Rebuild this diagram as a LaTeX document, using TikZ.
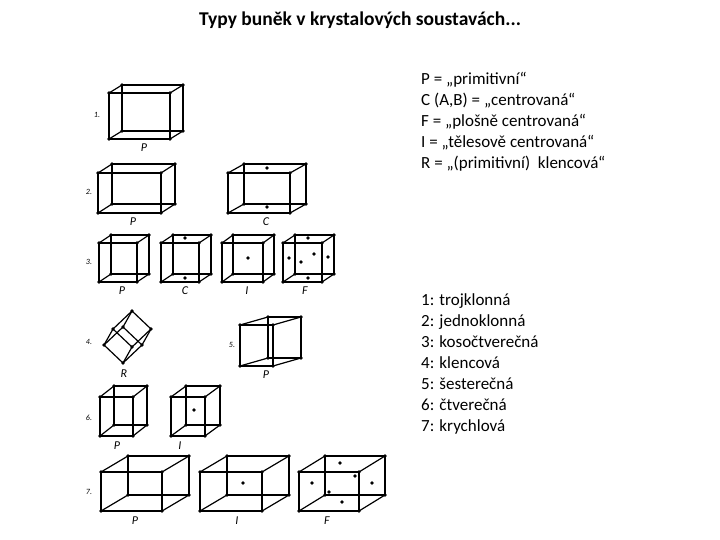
\documentclass[tikz,border=0pt]{standalone}
\usepackage{fontspec}
\setmainfont{Carlito}
\usepackage{tikz}

% one unit cell: front top-left, front bottom-right, offset of back face
\newcommand{\cellbox}[6]{%
  \draw[celledge] (#1,#2) rectangle (#3,#4);
  \draw[celledge] (#1+#5,#2+#6) rectangle (#3+#5,#4+#6);
  \foreach \cx/\cy in {#1/#2,#3/#2,#1/#4,#3/#4}{
    \draw[celledge] (\cx,\cy) -- (\cx+#5,\cy+#6);
    \fill (\cx,\cy) circle (1.9);
    \fill (\cx+#5,\cy+#6) circle (1.9);
  }%
}
\newcommand{\atom}[2]{\fill (#1,#2) circle (1.9);}

\begin{document}
\begin{tikzpicture}
  [
    x=1pt, y=-1pt,
    font=\itshape\large
  ]
  \tikzset{
    celledge/.style = {line width=1.2pt, line join=round},
    rowlabel/.style = {font=\itshape\footnotesize},
    infotext/.style = {font=\upshape\fontsize{17}{21}\selectfont, align=left, anchor=north west, inner sep=0pt}
  }
  \useasboundingbox (0,0) rectangle (720,540);
  \node[font=\upshape\bfseries\fontsize{19.5}{22}\selectfont] (title) at (360,20) {Typy buněk v krystalových soustavách...};

  % 1
  \node[rowlabel] (n1) at (97,115) {1.};
  \cellbox{109}{93}{170}{139}{13}{-8}
  \node (p1) at (144,148) {P};
  % 2
  \node[rowlabel] (n2) at (89,192) {2.};
  \cellbox{98}{173}{161}{213}{14}{-9}
  \node (p2) at (133,222) {P};
  \cellbox{228}{173}{290}{213}{16}{-9}
  \atom{267}{168} \atom{267}{207}
  \node (c2) at (266,222) {C};
  % 3
  \node[rowlabel] (n3) at (89,262) {3.};
  \cellbox{99}{243}{137}{282}{12}{-8}
  \node (p3) at (122,291) {P};
  \cellbox{161}{243}{199}{282}{12}{-8}
  \atom{185}{238} \atom{185}{278}
  \node (c3) at (185,291) {C};
  \cellbox{222}{243}{263}{282}{11}{-8}
  \atom{248}{258}
  \node (i3) at (247,291) {I};
  \cellbox{283}{243}{322}{282}{12}{-8}
  \atom{308}{238} \atom{308}{278} \atom{289}{258} \atom{328}{257}
  \atom{301}{262} \atom{314}{254}
  \node (f3) at (305,291) {F};
  % 4
  \node[rowlabel] (n4) at (89,342) {4.};
  \draw[celledge] (123,363) -- (104,345) -- (113,329) -- (132,311) -- (151,329) -- (142,345) -- cycle;
  \draw[celledge] (123,363) -- (132,347) -- (113,329);
  \draw[celledge] (132,347) -- (151,329);
  \draw[celledge] (104,345) -- (123,327) -- (142,345);
  \draw[celledge] (123,327) -- (132,311);
  \foreach \rx/\ry in {123/363,104/345,113/329,132/311,151/329,142/345,132/347,123/327}
    \fill (\rx,\ry) circle (1.9);
  \node (r4) at (124,374) {R};
  % 5
  \node[rowlabel] (n5) at (232,345) {5.};
  \cellbox{240}{325}{273}{366}{28}{-8}
  \node (p5) at (266,375) {P};
  % 6
  \node[rowlabel] (n6) at (89,418) {6.};
  \cellbox{100}{397}{133}{436}{14}{-11}
  \node (p6) at (117,446) {P};
  \cellbox{171}{397}{205}{436}{15}{-11}
  \atom{194}{410}
  \node (i6) at (180,446) {I};
  % 7
  \node[rowlabel] (n7) at (89,492) {7.};
  \cellbox{101}{472}{162}{511}{27}{-16}
  \node (p7) at (135,521) {P};
  \cellbox{200}{472}{262}{511}{27}{-16}
  \atom{243}{483}
  \node (i7) at (237,521) {I};
  \cellbox{299}{472}{359}{511}{26}{-16}
  \atom{340}{463} \atom{342}{502} \atom{312}{483} \atom{372}{483}
  \atom{329}{492} \atom{355}{476}
  \node (f7) at (327,521) {F};

  % legend
  \node[infotext] (types) at (421,72) {P = „primitivní“\\C (A,B) = „centrovaná“\\F = „plošně centrovaná“\\I = „tělesově centrovaná“\\R = „(primitivní) \ klencová“};
  \node[infotext] (systems) at (421,293) {1: trojklonná\\2: jednoklonná\\3: kosočtverečná\\4: klencová\\5: šesterečná\\6: čtverečná\\7: krychlová};
\end{tikzpicture}
\end{document}
